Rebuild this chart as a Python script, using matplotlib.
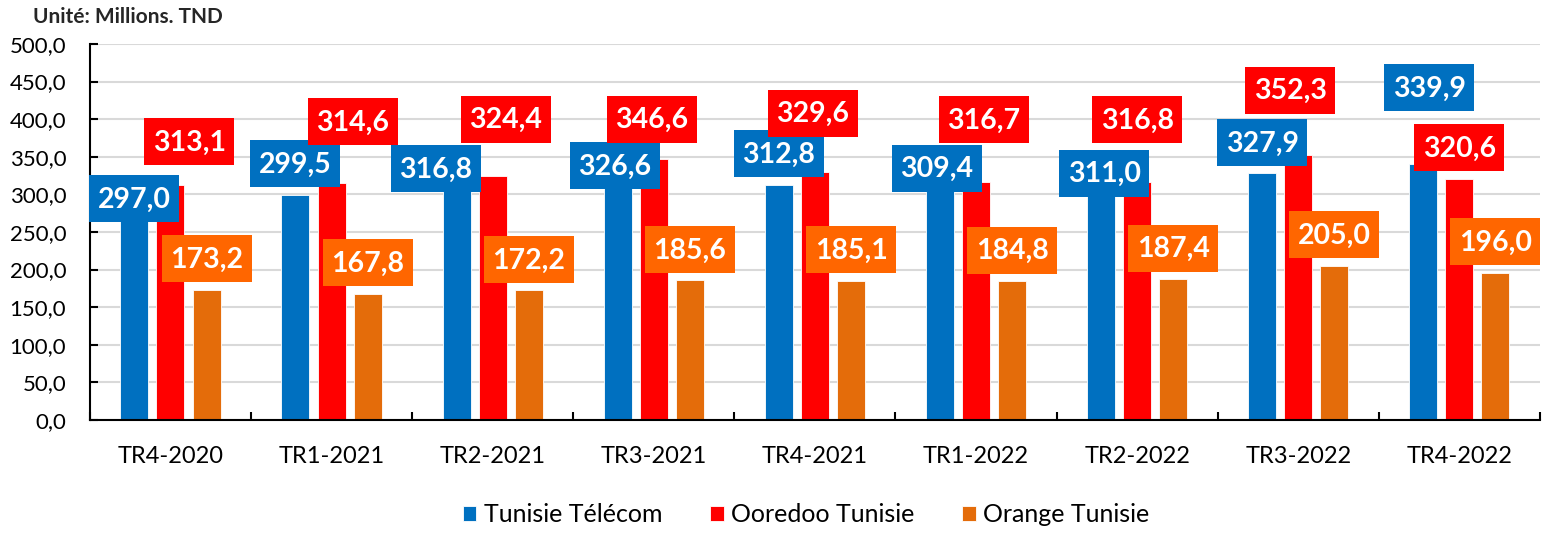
import numpy as np
import matplotlib
matplotlib.use("Agg")
import matplotlib.pyplot as plt
from matplotlib.patches import Rectangle
from matplotlib.transforms import ScaledTranslation

plt.rcParams['font.family'] = ['Lato', 'DejaVu Sans']

## data
quarters = ["TR4-2020", "TR1-2021", "TR2-2021", "TR3-2021", "TR4-2021",
            "TR1-2022", "TR2-2022", "TR3-2022", "TR4-2022"]
tt = [297.0, 299.5, 316.8, 326.6, 312.8, 309.4, 311.0, 327.9, 339.9]
ooredoo = [313.1, 314.6, 324.4, 346.6, 329.6, 316.7, 316.8, 352.3, 320.6]
orange = [173.2, 167.8, 172.2, 185.6, 185.1, 184.8, 187.4, 205.0, 196.0]
names = ["Tunisie Télécom", "Ooredoo Tunisie", "Orange Tunisie"]

## label placement (pixel offsets from top of each bar), set by hand like in Excel
tt_off = [(0, -2), (0, 31), (-21, 13), (-3, 9), (0, 31), (-3, 19), (3, 13), (0, 31), (6, 77)]
oo_off = [(19, 43), (21, 62), (13, 57), (-2, 40), (-2, 59), (8, 62), (0, 62), (-8, 65), (0, 31)]
or_off = [(0, 31)] * 9

bar_cols = ["#0070C0", "#FF0000", "#E46C0A"]
box_cols = ["#0070C0", "#FF0000", "#FF6600"]
box_w, box_h = 90, 47  # label box size in pixels

fig = plt.figure(figsize=(15.5, 5.33), dpi=100)
ax = fig.add_axes([0.058, 0.212, 0.9355, 0.7055])

x = np.arange(len(quarters))
w = 0.174
step = 0.224
series = [tt, ooredoo, orange]
offsets = [tt_off, oo_off, or_off]
for k, vals in enumerate(series):
    pos = x + (k - 1) * step
    ax.bar(pos, vals, width=w, color=bar_cols[k], label=names[k], zorder=2,
           edgecolor="white", linewidth=0.6)
    for xi, v, (dx, dy) in zip(pos, vals, offsets[k]):
        # box drawn in pixel units around the anchor at the bar top
        tr = fig.dpi_scale_trans + ScaledTranslation(xi, v, ax.transData)
        ax.add_patch(Rectangle(((dx - box_w / 2) / 100, (dy - box_h / 2) / 100),
                               box_w / 100, box_h / 100, transform=tr,
                               fc=box_cols[k], ec="none", zorder=4, clip_on=False))
        ax.annotate(f"{v:.1f}".replace(".", ","), (xi, v), xytext=(dx, dy - 1),
                    textcoords="offset pixels", ha="center", va="center",
                    fontsize=20.5, fontweight="bold", color="white", zorder=5)

ax.set_ylim(0, 500)
ax.set_xlim(-0.5, len(quarters) - 0.5)
ax.set_yticks(np.arange(0, 501, 50))
ax.set_yticklabels([f"{t:.1f}".replace(".", ",") for t in np.arange(0, 501, 50)])
ax.yaxis.grid(True, color="#D9D9D9", linewidth=1.5, zorder=0)
ax.set_axisbelow(True)

ax.set_xticks(np.arange(-0.5, len(quarters), 1.0))
ax.set_xticklabels([])
ax.set_xticks(x, minor=True)
ax.set_xticklabels(quarters, minor=True)
ax.tick_params(axis="x", which="major", direction="in", length=6, width=1.5)
ax.tick_params(axis="x", which="minor", length=0, pad=19, labelsize=17)
ax.tick_params(axis="y", direction="in", length=6, width=1.5, pad=17, labelsize=16)

for s in ["top", "right"]:
    ax.spines[s].set_visible(False)
ax.spines["left"].set_linewidth(1.5)
ax.spines["bottom"].set_linewidth(1.5)

fig.text(0.021, 0.968, "Unité: Millions. TND", fontsize=15, fontweight="bold",
         color="#262626", va="center", ha="left")

fig.legend(loc="center", bbox_to_anchor=(0.52, 0.034), ncol=3, frameon=False,
           fontsize=18, handlelength=0.55, handleheight=0.55, handletextpad=0.3,
           columnspacing=1.9)

plt.savefig("out.png", dpi=100)
